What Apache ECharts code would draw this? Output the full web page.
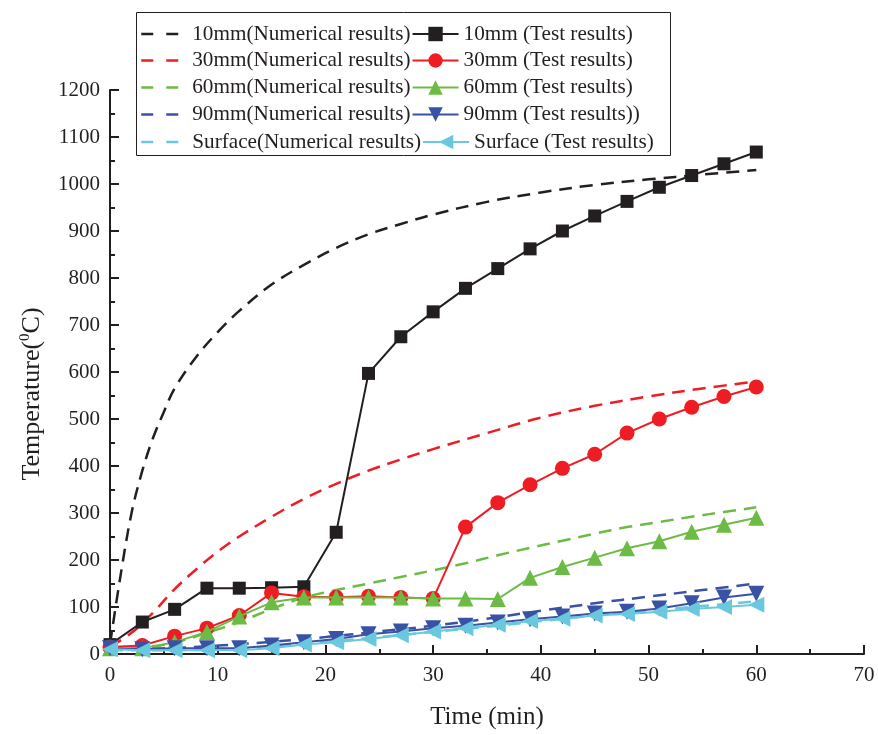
<!DOCTYPE html>
<html><head><meta charset="utf-8">
<script src="https://cdn.jsdelivr.net/npm/echarts@6/dist/echarts.min.js"></script>
<style>html,body{margin:0;padding:0;background:#fff}#c{width:878px;height:735px}</style>
</head><body><div id="c"></div>
<script>
// ---- Data ----
const testTimes = [0,3,6,9,12,15,18,21,24,27,30,33,36,39,42,45,48,51,54,57,60];
const test10 = [20,68,95,140,140,141,143,259,597,675,728,778,820,862,900,932,963,993,1018,1043,1068];
const test30 = [15,18,38,55,82,130,122,121,123,120,118,270,322,360,395,425,470,500,525,548,568];
const test60 = [12,12,25,47,80,110,120,120,120,120,118,118,117,162,185,205,225,240,260,275,290];
const test90 = [12,10,12,12,12,18,25,32,42,48,55,60,67,74,80,86,90,97,108,120,128];
const testSurf = [10,8,8,8,8,12,20,25,32,40,48,55,62,70,75,82,85,90,96,100,105];

const numTimes10 = [0,1,2,3,4,5,6,8,10,12,15,18,21,24,27,30,35,40,45,50,55,60];
const num10 = [20,170,300,390,460,515,565,632,685,730,786,828,864,893,915,935,962,982,998,1010,1020,1030];
const numTimes30 = [0,2,4,6,8,10,12,15,18,21,24,27,30,35,40,45,50,55,60];
const num30 = [15,45,88,138,180,218,250,292,330,362,390,414,436,470,503,528,548,565,580];
const numTimes60 = [0,3,6,9,12,15,18,21,24,27,30,33,36,39,42,45,48,51,54,57,60];
const num60 = [10,14,24,45,68,96,120,136,150,164,178,193,210,226,241,256,270,281,292,302,312];
const numTimes90 = [0,5,10,15,20,25,30,35,40,45,50,55,60];
const num90 = [10,12,18,26,36,48,60,75,92,108,122,136,150];
const numTimesSurf = [0,5,10,15,20,25,30,35,40,45,50,55,60];
const numSurf = [8,8,10,16,26,36,47,58,70,82,92,102,112];

const xTicks = {min:0, max:70, interval:10};
const yTicks = {min:0, max:1200, interval:100};

const names = [
  ['10mm(Numerical results)','10mm (Test results)'],
  ['30mm(Numerical results)','30mm (Test results)'],
  ['60mm(Numerical results)','60mm (Test results)'],
  ['90mm(Numerical results)','90mm (Test results))'],
  ['Surface(Numerical results)','Surface (Test results)']
];
const colors = ['#231f20','#ee1d23','#6cbb45','#3a52a3','#6ac8de'];
const numSets = [[numTimes10,num10],[numTimes30,num30],[numTimes60,num60],[numTimes90,num90],[numTimesSurf,numSurf]];
const testSets = [test10,test30,test60,test90,testSurf];
const symbols = [['rect',13,0],['circle',15,0],['triangle',16,0],['triangle',16,180],['triangle',16,90]];

const FONT = 'Liberation Serif';
const series = [];
numSets.forEach((s,i)=>{
  series.push({
    name: names[i][0], type:'line', smooth:0.35, showSymbol:false, symbol:'none',
    data: s[0].map((t,k)=>[t,s[1][k]]),
    lineStyle:{color:colors[i], width:2.5, type:[13,8]},
    itemStyle:{color:colors[i]}, z:2
  });
});
testSets.forEach((v,i)=>{
  series.push({
    name: names[i][1], type:'line',
    data: testTimes.map((t,k)=>[t,v[k]]),
    symbol: symbols[i][0], symbolSize: symbols[i][1], symbolRotate: symbols[i][2],
    lineStyle:{color:colors[i], width:2},
    itemStyle:{color:colors[i]}, z:3+i
  });
});

const rowTops = [23.5,50,77,104,131.5];
const legends = names.map((pair,i)=>({
  left:140, top:rowTops[i], orient:'horizontal', padding:0, itemGap:1,
  itemWidth:46, itemHeight:18,
  data:[{name:pair[0], itemStyle:{opacity:0}, lineStyle:{type:[12,13], width:2.5}}, {name:pair[1]}],
  textStyle:{fontFamily:FONT, fontSize:21.2, color:'#231f20'}
}));

const chart = echarts.init(document.getElementById('c'), null, {renderer:'canvas'});
chart.setOption({
  animation:false,
  backgroundColor:'#fff',
  grid:{left:110, right:14, top:90, bottom:80, containLabel:false},
  legend: legends,
  graphic:[{type:'rect', left:134, top:10, shape:{width:534, height:143},
    style:{fill:'none', stroke:'#231f20', lineWidth:1}, silent:true, z:100}],
  xAxis:{type:'value', min:xTicks.min, max:xTicks.max, interval:xTicks.interval,
    name:'Time (min)', nameLocation:'middle', nameGap:51,
    nameTextStyle:{fontFamily:FONT, fontSize:25, color:'#231f20'},
    axisLine:{lineStyle:{color:'#231f20', width:2}},
    axisTick:{inside:true, length:9, lineStyle:{color:'#231f20', width:2}},
    minorTick:{show:true, splitNumber:2, length:5, lineStyle:{color:'#231f20', width:2}},
    splitLine:{show:false},
    axisLabel:{fontFamily:FONT, fontSize:21, color:'#231f20', margin:11, formatter:v=>String(v)}
  },
  yAxis:{type:'value', min:yTicks.min, max:yTicks.max, interval:yTicks.interval,
    name:'Temperature({s|0}C)', nameLocation:'middle', nameGap:64, nameRotate:90,
    nameTextStyle:{fontFamily:FONT, fontSize:26, color:'#231f20', padding:[0,44,0,0],
      rich:{s:{fontFamily:FONT, fontSize:15, color:'#231f20', verticalAlign:'top', padding:[0,0,13,0]}}},
    axisLine:{show:true, lineStyle:{color:'#231f20', width:2}},
    axisTick:{show:true, inside:true, length:9, lineStyle:{color:'#231f20', width:2}},
    minorTick:{show:true, splitNumber:2, length:5, lineStyle:{color:'#231f20', width:2}},
    splitLine:{show:false},
    axisLabel:{fontFamily:FONT, fontSize:21, color:'#231f20', margin:10, formatter:v=>String(v)}
  },
  series: series
});
</script></body></html>
